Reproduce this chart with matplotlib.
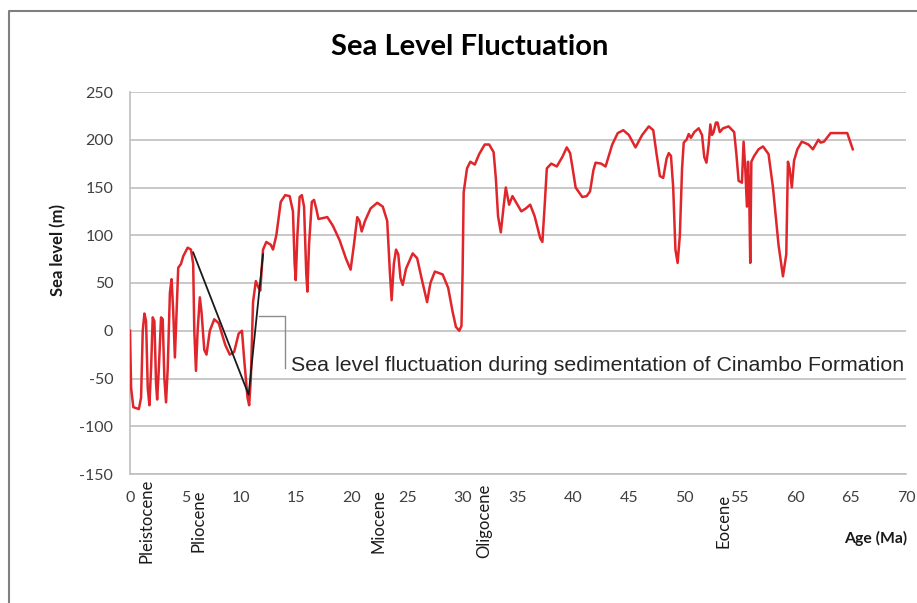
import numpy as np
import matplotlib
matplotlib.use("Agg")
import matplotlib.pyplot as plt
from matplotlib.transforms import blended_transform_factory
from matplotlib.lines import Line2D

plt.rcParams["axes.unicode_minus"] = False

# Sea level curve (age in Ma, sea level in m)
age = [0.0, 0.1, 0.3, 0.8, 1.0, 1.15, 1.3, 1.45, 1.6, 1.75, 1.9, 2.05, 2.2, 2.35, 2.45,
       2.6, 2.8, 2.95, 3.1, 3.25, 3.4, 3.6, 3.75, 3.9, 4.05, 4.2, 4.35, 4.6, 4.8, 5.2,
       5.5, 5.7, 5.8, 5.95, 6.1, 6.3, 6.45, 6.7, 6.9, 7.2, 7.6, 8.0, 8.6, 9.0, 9.4,
       9.8, 10.1, 10.3, 10.6, 10.75, 10.9, 11.1, 11.35, 11.6, 11.75, 12.0, 12.3, 12.7, 12.9, 13.2,
       13.6, 14.0, 14.4, 14.7, 14.85, 14.95, 15.1, 15.3, 15.5, 15.7, 15.9, 16.0, 16.15, 16.4, 16.6,
       16.8, 17.0, 17.4, 17.8, 18.3, 18.9, 19.5, 19.9, 20.2, 20.5, 20.7, 20.9, 21.2, 21.7, 22.3,
       22.8, 23.2, 23.45, 23.6, 23.8, 24.0, 24.2, 24.4, 24.6, 24.9, 25.5, 25.9, 26.3, 26.8, 27.1,
       27.5, 28.2, 28.7, 29.1, 29.4, 29.7, 29.9, 30.0, 30.1, 30.4, 30.7, 31.1, 31.5, 32.0, 32.4,
       32.8, 33.0, 33.2, 33.45, 33.7, 33.9, 34.2, 34.5, 34.8, 35.3, 35.7, 36.1, 36.5, 37.0, 37.2,
       37.4, 37.6, 38.0, 38.5, 39.0, 39.4, 39.7, 39.9, 40.2, 40.8, 41.2, 41.5, 41.8, 42.0, 42.5,
       42.9, 43.5, 44.0, 44.5, 45.0, 45.6, 46.2, 46.8, 47.2, 47.5, 47.8, 48.1, 48.4, 48.6, 48.8,
       49.0, 49.2, 49.4, 49.6, 49.8, 49.95, 50.2, 50.4, 50.6, 50.9, 51.3, 51.6, 51.8, 52.0, 52.2,
       52.35, 52.5, 52.65, 52.85, 53.0, 53.2, 53.5, 54.0, 54.5, 54.7, 54.9, 55.2, 55.35, 55.5, 55.65,
       55.75, 55.85, 55.95, 56.05, 56.3, 56.7, 57.1, 57.6, 58.0, 58.5, 58.9, 59.2, 59.35, 59.5, 59.7,
       59.9, 60.2, 60.6, 61.2, 61.6, 62.1, 62.3, 62.6, 63.2, 64.0, 64.7, 65.2]
sea_level = [0, -60, -80, -82, -70, 0, 18, 10, -60, -78, -40, 14, 10, -55, -72,
             -40, 14, 12, -50, -75, -40, 40, 54, 20, -28, 20, 66, 70, 78, 87,
             85, 70, 0, -42, 0, 35, 20, -20, -25, 0, 12, 8, -15, -25, -22,
             -3, 0, -30, -70, -78, -50, 30, 52, 45, 42, 85, 93, 90, 85, 100,
             135, 142, 141, 125, 70, 53, 100, 140, 142, 130, 60, 41, 90, 135, 137,
             128, 117, 118, 119, 110, 95, 75, 64, 90, 119, 115, 104, 115, 128, 134,
             130, 115, 60, 32, 70, 85, 80, 55, 48, 65, 81, 76, 55, 30, 50,
             62, 59, 45, 20, 4, 0, 5, 60, 145, 170, 177, 174, 185, 195, 195,
             187, 160, 120, 103, 130, 150, 132, 141, 135, 125, 128, 132, 120, 97, 93,
             130, 170, 175, 172, 182, 192, 186, 172, 150, 140, 141, 146, 168, 176, 175,
             172, 195, 207, 210, 205, 192, 205, 214, 210, 185, 162, 160, 180, 186, 183,
             150, 85, 71, 100, 170, 197, 200, 206, 202, 208, 212, 205, 182, 176, 195,
             216, 205, 208, 218, 218, 208, 212, 214, 208, 185, 157, 155, 198, 170, 130,
             177, 150, 71, 177, 183, 190, 193, 185, 150, 90, 57, 80, 177, 170, 150,
             178, 190, 198, 195, 190, 200, 197, 198, 207, 207, 207, 190]

# Cinambo Formation triangle and callout
tri_age = [5.7, 10.7, 12.0]
tri_level = [82, -67, 80]
callout_age = [11.6, 14.0, 14.0]
callout_level = [15, 15, -39]
note = "Sea level fluctuation during sedimentation of Cinambo Formation"

epochs = ["Pleistocene", "Pliocene", "Miocene", "Oligocene", "Eocene"]
epoch_age = [1.5, 6.2, 22.4, 32.0, 53.5]

font = "Lato"
tick_col = "#404040"
grid_col = "#bfbfbf"

fig = plt.figure(figsize=(9.17, 6.03), dpi=100)
ax = fig.add_axes([130 / 917, 1 - 474 / 603, 776 / 917, 382 / 603])

ax.plot(age, sea_level, color="#e0252b", lw=1.8, solid_joinstyle="round", zorder=3)
ax.plot(tri_age, tri_level, color="#1a1a1a", lw=1.3, zorder=4)
ax.plot(callout_age, callout_level, color="#8c8c8c", lw=1.0, zorder=4)
ax.text(14.5, -36, note, fontsize=15.4, family="Liberation Sans", color="#262626",
        va="center", ha="left", zorder=5)

ax.set_xlim(0, 70)
ax.set_ylim(-150, 250)
ax.set_xticks(np.arange(0, 71, 5))
ax.set_yticks(np.arange(-150, 251, 50))
ax.yaxis.grid(True, color=grid_col, lw=1.2)
ax.set_axisbelow(True)
for s in ["top", "right"]:
    ax.spines[s].set_visible(False)
for s in ["left", "bottom"]:
    ax.spines[s].set_color(grid_col)
    ax.spines[s].set_linewidth(1.2)
ax.tick_params(axis="both", length=0, labelsize=11.5, labelcolor=tick_col)
ax.tick_params(axis="y", pad=12)
ax.tick_params(axis="x", pad=12)
for lab in ax.get_xticklabels() + ax.get_yticklabels():
    lab.set_family(font)

# epoch names under the axis
tr = blended_transform_factory(ax.transData, fig.transFigure)
for name, a in zip(epochs, epoch_age):
    ax.text(a, 1 - 521 / 603, name, transform=tr, rotation=90, ha="center", va="center",
            fontsize=12, family=font, color="#1a1a1a")

fig.text(470 / 917, 1 - 47 / 603, "Sea Level Fluctuation", ha="center", va="center",
         fontsize=21, fontweight="bold", family=font, color="#000000")
fig.text(58 / 917, 1 - 250 / 603, "Sea level (m)", rotation=90, ha="center", va="center",
         fontsize=12, fontweight="bold", family=font, color="#1a1a1a")
fig.text(907 / 917, 1 - 538 / 603, "Age (Ma)", ha="right", va="center",
         fontsize=11.3, fontweight="bold", family=font, color="#1a1a1a")

# outer chart border (only top and left visible)
fig.add_artist(Line2D([9 / 917, 9 / 917, 1.0], [0.0, 1 - 11 / 603, 1 - 11 / 603],
                      transform=fig.transFigure, color="#7f7f7f", lw=1.5))

fig.savefig("out.png", dpi=100)
